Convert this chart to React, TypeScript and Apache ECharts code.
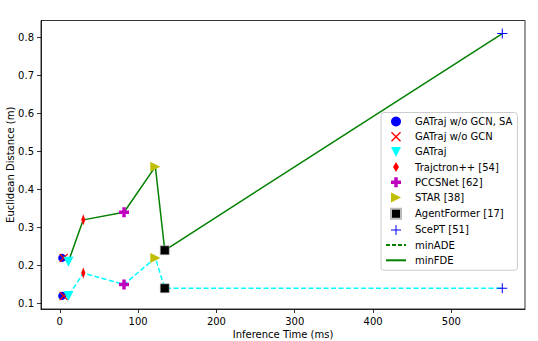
import { useEffect, useRef } from "react";
import * as echarts from "echarts";

const methods = [
  "GATraj w/o GCN, SA",
  "GATraj w/o GCN",
  "GATraj",
  "Trajctron++ [54]",
  "PCCSNet [62]",
  "STAR [38]",
  "AgentFormer [17]",
  "ScePT [51]",
];
const inferenceTime = [3, 5, 11, 30, 82, 122, 134, 565];
const minADE = [0.12, 0.12, 0.12, 0.18, 0.15, 0.22, 0.14, 0.14];
const minFDE = [0.22, 0.22, 0.21, 0.32, 0.34, 0.46, 0.24, 0.81];
const xTicks = [0, 100, 200, 300, 400, 500];
const yTicks = [0.1, 0.2, 0.3, 0.4, 0.5, 0.6, 0.7, 0.8];

const markerColors = ["#0000ff", "#ff0000", "#00ffff", "#ff0000", "#bf00bf", "#bfbf00", "#000000", "#0000ff"];
const markerSymbols = [
  "circle",
  "path://M0,1 L1,0 L5,4 L9,0 L10,1 L6,5 L10,9 L9,10 L5,6 L1,10 L0,9 L4,5 Z",
  "path://M0,0 L10,0 L5,10 Z",
  "path://M3,0 L6,5 L3,10 L0,5 Z",
  "path://M3.3,0 H6.7 V3.3 H10 V6.7 H6.7 V10 H3.3 V6.7 H0 V3.3 H3.3 Z",
  "path://M0,0 L10,5 L0,10 Z",
  "path://M0,0 H10 V10 H0 Z",
  "path://M4.5,0 H5.5 V4.5 H10 V5.5 H5.5 V10 H4.5 V5.5 H0 V4.5 H4.5 Z",
];
const markerSizes: (number | number[])[] = [8, 9, 10, [7, 11], 10, 10, 9, 10];

const FONT = "DejaVu Sans";

export default function App() {
  const ref = useRef<HTMLDivElement>(null);
  useEffect(() => {
    const chart = echarts.init(ref.current!, null, { renderer: "svg" });
    const scatterSeries = methods.map((m, i) => ({
      type: "scatter",
      name: m,
      symbol: markerSymbols[i],
      symbolSize: markerSizes[i],
      symbolKeepAspect: true,
      itemStyle: {
        color: markerColors[i],
        opacity: 1,
        borderColor: i === 6 ? "#bbbbbb" : undefined,
        borderWidth: i === 6 ? 0.6 : 0,
      },
      data: [
        [inferenceTime[i], minADE[i]],
        [inferenceTime[i], minFDE[i]],
      ],
      z: 3 + i,
    }));
    const option: any = {
      animation: false,
      backgroundColor: "#ffffff",
      textStyle: { fontFamily: FONT },
      grid: {
        left: 41,
        top: 20.5,
        right: 13,
        bottom: 32,
        containLabel: false,
        outerBoundsMode: "none",
        show: true,
        borderColor: "#000",
        borderWidth: 0.8,
        backgroundColor: "transparent",
      },
      xAxis: {
        type: "value",
        min: -24,
        max: 594,
        name: "Inference Time (ms)",
        nameLocation: "middle",
        nameGap: 20,
        nameMoveOverlap: false,
        nameTextStyle: { fontSize: 10, color: "#000", fontFamily: FONT },
        axisLine: { show: true, onZero: false, lineStyle: { color: "#000", width: 0.8 } },
        axisTick: { show: true, length: 4, customValues: xTicks, lineStyle: { color: "#000", width: 0.8 } },
        axisLabel: { customValues: xTicks, margin: 7, fontSize: 10, color: "#000", fontFamily: FONT },
        splitLine: { show: false },
      },
      yAxis: {
        type: "value",
        min: 0.0855,
        max: 0.8445,
        name: "Euclidean Distance (m)",
        nameLocation: "middle",
        nameGap: 26,
        nameMoveOverlap: false,
        nameTextStyle: { fontSize: 10, color: "#000", fontFamily: FONT },
        axisLine: { show: true, onZero: false, lineStyle: { color: "#000", width: 0.8 } },
        axisTick: { show: true, length: 4, customValues: yTicks, lineStyle: { color: "#000", width: 0.8 } },
        axisLabel: {
          customValues: yTicks,
          margin: 7,
          fontSize: 10,
          color: "#000",
          fontFamily: FONT,
          formatter: (v: number) => v.toFixed(1),
        },
        splitLine: { show: false },
      },
      legend: {
        orient: "vertical",
        left: 381,
        top: 112.5,
        data: [
          ...methods,
          { name: "minADE", itemStyle: { opacity: 0 } },
          { name: "minFDE", itemStyle: { opacity: 0 } },
        ],
        itemWidth: 20,
        itemHeight: 10,
        itemGap: 5.2,
        padding: [4, 5, 5, 4],
        backgroundColor: "rgba(255,255,255,0.8)",
        borderColor: "#cccccc",
        borderWidth: 1,
        borderRadius: 3,
        selectedMode: false,
        textStyle: { fontSize: 10, color: "#000", fontFamily: FONT, padding: [0, 0, 0, 4] },
      },
      series: [
        {
          type: "line",
          name: "ADE curve",
          symbol: "none",
          data: inferenceTime.map((t, i) => [t, minADE[i]]),
          lineStyle: { color: "#00ffff", width: 1.5, type: [5, 2.5] },
          itemStyle: { color: "#00ffff" },
          z: 2,
        },
        {
          type: "line",
          name: "minFDE",
          symbol: "none",
          data: inferenceTime.map((t, i) => [t, minFDE[i]]),
          lineStyle: { color: "#008000", width: 1.5 },
          itemStyle: { color: "#008000" },
          z: 2,
        },
        {
          type: "line",
          name: "minADE",
          symbol: "none",
          data: [],
          lineStyle: { color: "#008000", width: 1.5, type: [4, 2] },
          itemStyle: { color: "#008000" },
        },
        ...scatterSeries,
      ],
    };
    chart.setOption(option);
    return () => chart.dispose();
  }, []);
  return (
    <div
      ref={ref}
      style={{ position: "fixed", left: 0, top: 0, width: 538, height: 341, background: "#fff" }}
    />
  );
}
